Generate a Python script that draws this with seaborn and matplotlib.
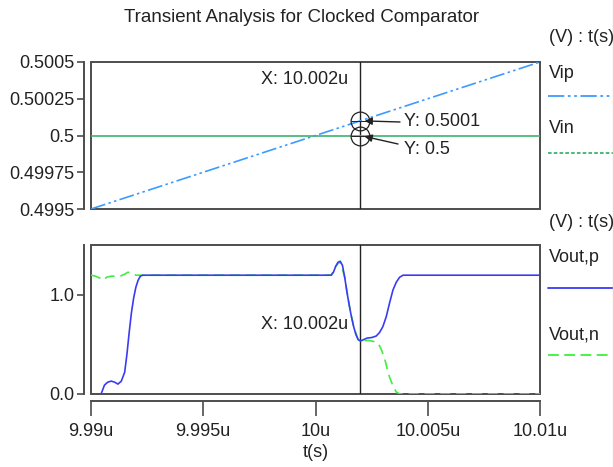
import matplotlib
matplotlib.use("Agg")
import matplotlib.pyplot as plt
from matplotlib.patches import Rectangle
from matplotlib.lines import Line2D
import seaborn as sns
import pandas as pd

# ---- data (time in microseconds, voltages in volts) ----
t_in = [9.990, 10.010]
vip = [0.4995, 0.5005]
vin = [0.5, 0.5]

t_outp = [9.99000, 9.99045, 9.99060, 9.99075, 9.99090, 9.99105, 9.99120, 9.99135,
          9.99150, 9.99160, 9.99170, 9.99180, 9.99190, 9.99200, 9.99210, 9.99220,
          9.99230, 10.00070, 10.00080, 10.00090, 10.00100, 10.00110, 10.00120,
          10.00130, 10.00140, 10.00150, 10.00160, 10.00170, 10.00180, 10.00190,
          10.00200, 10.00215, 10.00230, 10.00250, 10.00270, 10.00285, 10.00300,
          10.00315, 10.00330, 10.00345, 10.00360, 10.00375, 10.00390, 10.01000]
v_outp = [0.0, 0.0, 0.09, 0.12, 0.13, 0.12, 0.10, 0.13,
          0.22, 0.40, 0.62, 0.82, 0.97, 1.08, 1.15, 1.19,
          1.20, 1.20, 1.23, 1.29, 1.33, 1.34, 1.30,
          1.18, 1.03, 0.90, 0.78, 0.68, 0.60, 0.55,
          0.535, 0.55, 0.565, 0.57, 0.585, 0.62, 0.68,
          0.78, 0.92, 1.05, 1.13, 1.18, 1.20, 1.20]

t_outn = [9.99000, 9.99020, 9.99040, 9.99055, 9.99070, 9.99090, 9.99110, 9.99130,
          9.99150, 9.99165, 9.99180, 9.99200, 10.00070, 10.00090, 10.00110,
          10.00130, 10.00150, 10.00170, 10.00190, 10.00200, 10.00220, 10.00240,
          10.00260, 10.00280, 10.00295, 10.00310, 10.00320, 10.00330, 10.00345,
          10.00360, 10.00375, 10.01000]
v_outn = [1.20, 1.19, 1.17, 1.15, 1.18, 1.19, 1.19, 1.19,
          1.21, 1.23, 1.22, 1.20, 1.20, 1.29, 1.34,
          1.18, 0.90, 0.68, 0.55, 0.53, 0.54, 0.54,
          0.53, 0.51, 0.44, 0.34, 0.25, 0.17, 0.08,
          0.02, 0.0, 0.0]

x_ticks = [9.990, 9.995, 10.000, 10.005, 10.010]
x_ticklabels = ["9.99u", "9.995u", "10u", "10.005u", "10.01u"]
top_yticks = [0.4995, 0.49975, 0.5, 0.50025, 0.5005]
top_yticklabels = ["0.4995", "0.49975", "0.5", "0.50025", "0.5005"]
bot_yticks = [0.0, 1.0]
bot_yticklabels = ["0.0", "1.0"]

cursor_t = 10.002
cursor_vip = 0.5001
cursor_vin = 0.5

# ---- style ----
sns.set_style("white")
plt.rcParams["font.family"] = ["Liberation Sans", "DejaVu Sans"]
FS = 13
TXT = "#222222"
BOX = "#4d4d4d"
C_VIP = "#3d9bff"
C_VIN = "#3cb46e"
C_OUTP = "#3b3bf5"
C_OUTN = "#3df03d"

fig = plt.figure(figsize=(6.14, 4.67), dpi=100)
W, H = 614, 467


def px_axes(left, top, right, bottom):
    return fig.add_axes([left / W, 1 - bottom / H, (right - left) / W, (bottom - top) / H])


def fx(x):
    return x / W


def fy(y):
    return 1 - y / H


ax1 = px_axes(91, 62, 540, 209)
ax2 = px_axes(91, 245, 540, 394)

df_in = pd.DataFrame({"t": t_in, "Vip": vip, "Vin": vin})
df_p = pd.DataFrame({"t": t_outp, "v": v_outp})
df_n = pd.DataFrame({"t": t_outn, "v": v_outn})

# top panel: inputs
sns.lineplot(data=df_in, x="t", y="Vin", ax=ax1, color=C_VIN, linewidth=1.2, zorder=6)
sns.lineplot(data=df_in, x="t", y="Vip", ax=ax1, color=C_VIP, linewidth=1.2,
             linestyle=(0, (9, 2, 1.5, 2, 1.5, 2)), zorder=6)

# bottom panel: outputs
sns.lineplot(data=df_n, x="t", y="v", ax=ax2, color=C_OUTN, linewidth=1.2,
             linestyle=(0, (6, 3.5)), estimator=None, zorder=6)
sns.lineplot(data=df_p, x="t", y="v", ax=ax2, color=C_OUTP, linewidth=1.2,
             estimator=None, zorder=7)

for ax in (ax1, ax2):
    ax.set_xlim(9.990, 10.010)
    ax.set_xlabel("")
    ax.set_ylabel("")
    for s in ("top", "right", "bottom", "left"):
        ax.spines[s].set_visible(False)
    ax.add_patch(Rectangle((0, 0), 1, 1, transform=ax.transAxes, fill=False,
                           edgecolor=BOX, linewidth=1.4, clip_on=False, zorder=3))
    ax.spines["left"].set_visible(True)
    ax.spines["left"].set_position(("outward", 5))
    ax.spines["left"].set_color(BOX)
    ax.spines["left"].set_linewidth(1.4)
    ax.tick_params(axis="y", direction="out", length=5, width=1.2, color=BOX,
                   labelsize=FS, labelcolor=TXT, pad=2, left=True)
    ax.axvline(cursor_t, color=TXT, linewidth=1.0, zorder=4)

ax1.set_ylim(0.4995, 0.5005)
ax1.set_yticks(top_yticks)
ax1.set_yticklabels(top_yticklabels)
ax1.set_xticks([])

ax2.set_ylim(0.0, 1.505)
ax2.set_yticks(bot_yticks)
ax2.set_yticklabels(bot_yticklabels)
ax2.spines["bottom"].set_visible(True)
ax2.spines["bottom"].set_position(("outward", 5))
ax2.spines["bottom"].set_color(BOX)
ax2.spines["bottom"].set_linewidth(1.4)
ax2.set_xticks(x_ticks)
ax2.set_xticklabels(x_ticklabels)
ax2.tick_params(axis="x", direction="out", length=11, width=1.2, color=BOX,
                labelsize=FS, labelcolor=TXT, pad=5, bottom=True)
ax2.set_xlabel("t(s)", fontsize=FS, color=TXT, labelpad=3)

# cursor markers and readouts
for yv in (cursor_vip, cursor_vin):
    ax1.plot([cursor_t], [yv], marker="o", markersize=13.5, markerfacecolor="none",
             markeredgecolor=TXT, markeredgewidth=0.9, zorder=8)
    ax1.plot([cursor_t], [yv], marker="_", markersize=13, markeredgecolor=TXT,
             markeredgewidth=0.7, linestyle=(0, (1, 1)), zorder=8)

arrow_kw = dict(arrowstyle="-|>", color=TXT, lw=1.0, shrinkA=0, shrinkB=3,
                mutation_scale=11)
ax1.annotate("", xy=(cursor_t, cursor_vip), xytext=(fx(400), fy(122)),
             textcoords="figure fraction", arrowprops=arrow_kw, zorder=9)
ax1.annotate("", xy=(cursor_t, cursor_vin), xytext=(fx(398), fy(144)),
             textcoords="figure fraction", arrowprops=arrow_kw, zorder=9)
fig.text(fx(404), fy(122), f"Y: {cursor_vip:g}", fontsize=FS, color=TXT,
         ha="left", va="center")
fig.text(fx(404), fy(149), f"Y: {cursor_vin:g}", fontsize=FS, color=TXT,
         ha="left", va="center")
ax1.text(10.00147, 0.50038, f"X: {cursor_t:g}u", fontsize=FS, color=TXT,
         ha="right", va="center")
ax2.text(10.00147, 0.70, f"X: {cursor_t:g}u", fontsize=FS, color=TXT,
         ha="right", va="center")

# title
fig.text(fx(302), fy(17), "Transient Analysis for Clocked Comparator",
         fontsize=13.5, color=TXT, ha="center", va="center")

# side legends
legend_items = [
    ("(V) : t(s)", 37, None, None, None),
    ("Vip", 73, 96, C_VIP, (0, (9, 2, 1.5, 2, 1.5, 2))),
    ("Vin", 128, 153, C_VIN, (0, (2, 1.2))),
    ("(V) : t(s)", 222, None, None, None),
    ("Vout,p", 258, 288, C_OUTP, "-"),
    ("Vout,n", 335, 355, C_OUTN, (0, (6, 3))),
]
for label, ty, ly, col, ls in legend_items:
    fig.text(fx(549), fy(ty), label, fontsize=FS, color=TXT, ha="left", va="center")
    if ly is not None:
        fig.add_artist(Line2D([fx(548), fx(616)], [fy(ly), fy(ly)], color=col,
                              linewidth=1.3, linestyle=ls))

fig.add_artist(Line2D([fx(612.5), fx(612.5)], [0, 1], color="#f2cccc", linewidth=1.0))

fig.savefig("out.png", dpi=100)
